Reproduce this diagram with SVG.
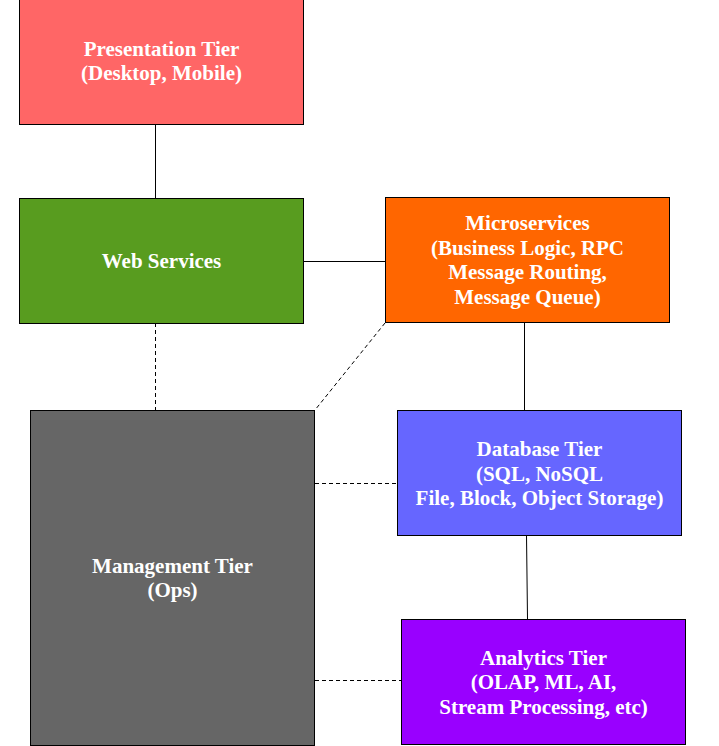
<svg xmlns="http://www.w3.org/2000/svg" width="719" height="746" viewBox="0 0 719 746">
<style>
.box{stroke:#000;stroke-width:1}
.lbl{font-family:"Liberation Serif","Times New Roman",serif;font-weight:bold;font-size:21px;fill:#fff;text-anchor:middle}
.solid{stroke:#000;stroke-width:1;fill:none}
.dash{stroke:#000;stroke-width:1;fill:none;stroke-dasharray:4 3}
</style>
<rect width="719" height="746" fill="#fff"/>
<g id="connectors">
<line class="solid" x1="155.5" y1="124" x2="155.5" y2="198"/>
<line class="solid" x1="303" y1="261.5" x2="385" y2="261.5"/>
<line class="dash" x1="155.5" y1="323" x2="155.5" y2="410"/>
<line class="dash" x1="385" y1="323" x2="315" y2="410" stroke="#444"/>
<line class="solid" x1="524.5" y1="322" x2="524.5" y2="410"/>
<line class="dash" x1="315" y1="483.5" x2="397" y2="483.5"/>
<line class="solid" x1="526.5" y1="535" x2="527.5" y2="619"/>
<line class="dash" x1="315" y1="680.5" x2="401" y2="680.5"/>
</g>
<g id="presentation">
<rect class="box" x="19.5" y="-1.5" width="284" height="126" fill="#ff6666"/>
<text class="lbl" x="161.5" y="56">Presentation Tier</text>
<text class="lbl" x="161.5" y="80">(Desktop, Mobile)</text>
</g>
<g id="webservices">
<rect class="box" x="19.5" y="198.5" width="284" height="125" fill="#589c1f"/>
<text class="lbl" x="161.5" y="268">Web Services</text>
</g>
<g id="microservices">
<rect class="box" x="385.5" y="197.5" width="284" height="125" fill="#ff6600"/>
<text class="lbl" x="527.5" y="230">Microservices</text>
<text class="lbl" x="527.5" y="254.5">(Business Logic, RPC</text>
<text class="lbl" x="527.5" y="279">Message Routing,</text>
<text class="lbl" x="527.5" y="304">Message Queue)</text>
</g>
<g id="management">
<rect class="box" x="30.5" y="410.5" width="284" height="335" fill="#666666"/>
<text class="lbl" x="172.5" y="573">Management Tier</text>
<text class="lbl" x="172.5" y="597">(Ops)</text>
</g>
<g id="database">
<rect class="box" x="397.5" y="410.5" width="284" height="125" fill="#6666ff"/>
<text class="lbl" x="539.5" y="456">Database Tier</text>
<text class="lbl" x="539.5" y="480.5">(SQL, NoSQL</text>
<text class="lbl" x="539.5" y="505">File, Block, Object Storage)</text>
</g>
<g id="analytics">
<rect class="box" x="401.5" y="619.5" width="284" height="125" fill="#9900ff"/>
<text class="lbl" x="543.5" y="665">Analytics Tier</text>
<text class="lbl" x="543.5" y="689">(OLAP, ML, AI,</text>
<text class="lbl" x="543.5" y="714">Stream Processing, etc)</text>
</g>
</svg>
